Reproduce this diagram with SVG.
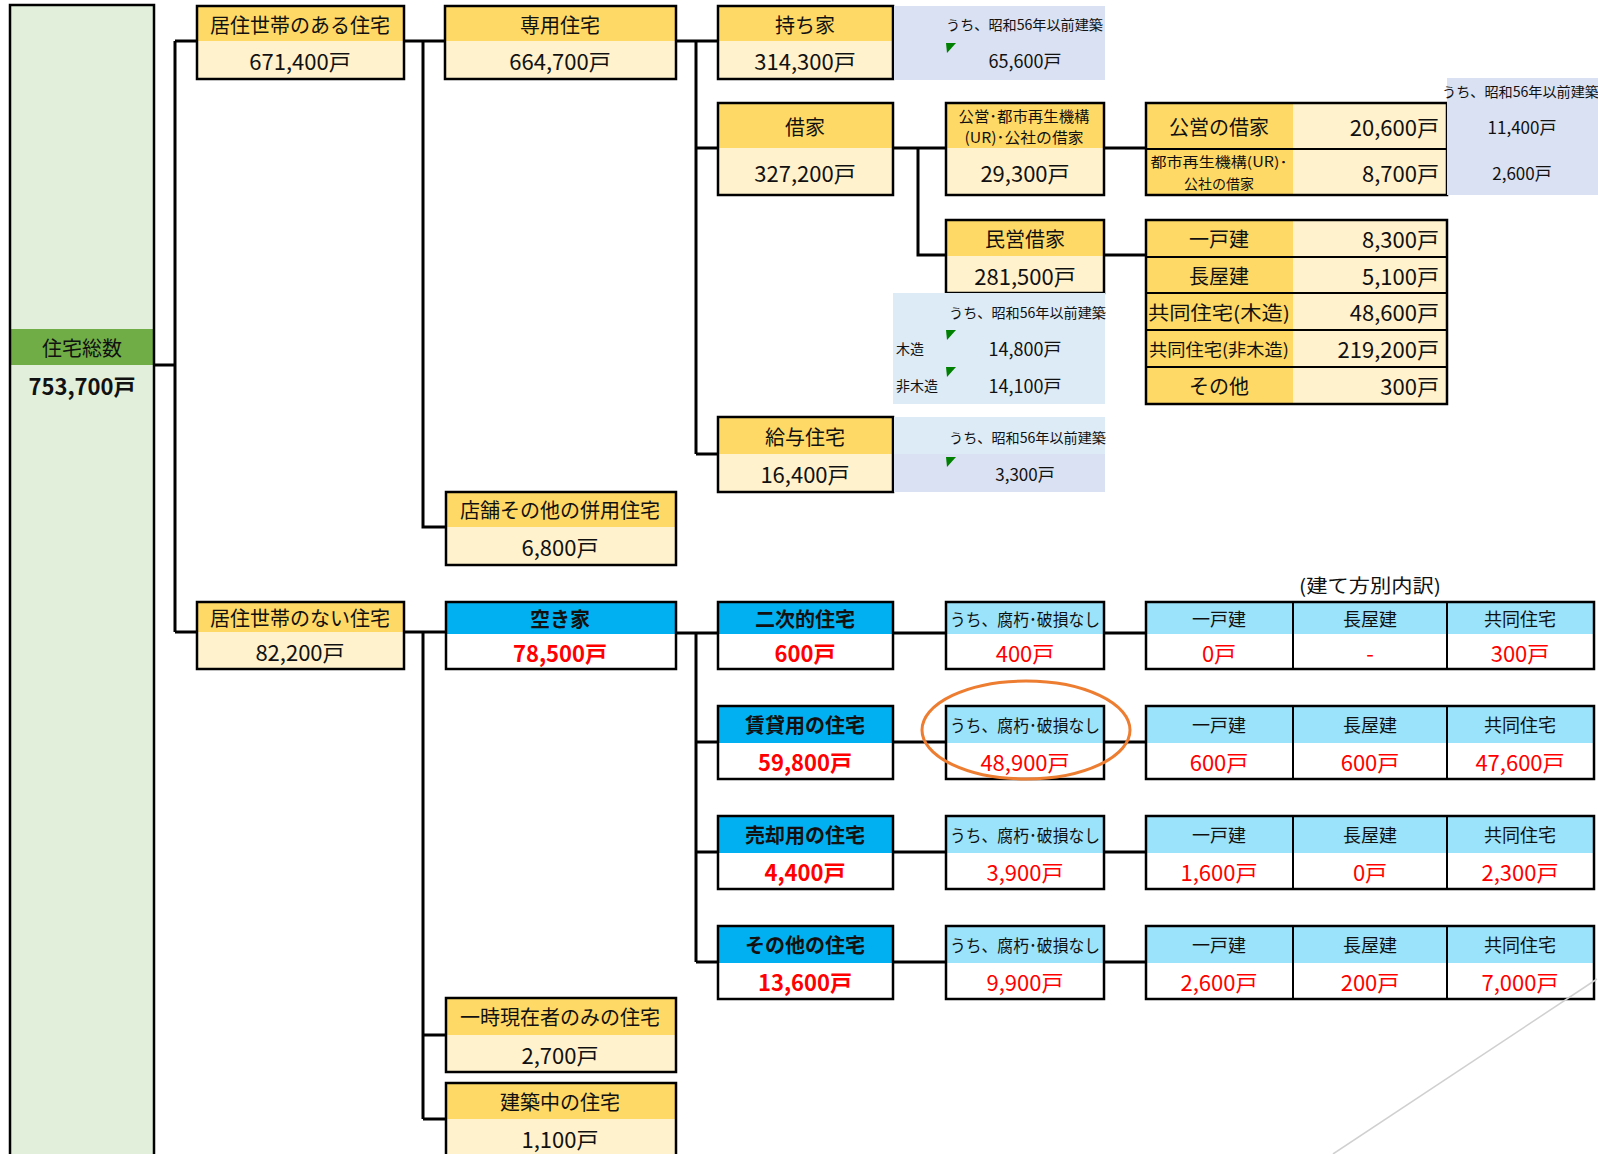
<svg xmlns="http://www.w3.org/2000/svg" width="1598" height="1154" viewBox="0 0 1598 1154">
<defs>
<style>
.t{font-family:'Noto Sans CJK JP','Noto Sans',sans-serif;text-anchor:middle;dominant-baseline:central;fill:#111}
.h{font-size:20px}.v{font-size:22px}.s{font-size:14px}.m{font-size:18px}
.r{fill:#f00}.bd{font-weight:bold}.e{text-anchor:end}.st{text-anchor:start}
.bx{fill:none;stroke:#000;stroke-width:2.5}
.ln{fill:none;stroke:#000;stroke-width:2}
.hy{fill:#FFD966}.ly{fill:#FFF2CC}.lg{fill:#E2EFDA}.dg{fill:#70AD47}
.lav{fill:#D9E1F2}.lb{fill:#DDEBF7}.bl{fill:#00B0F0}.cy{fill:#9BE3FB}.wh{fill:#fff}
.tri{fill:#008000}
.con{fill:none;stroke:#000;stroke-width:3}
</style>
</defs>
<rect width="1598" height="1154" fill="#fff"/>

<g id="connectors" class="con">
<path d="M154,365 H175 M175,41 V632 M175,41 H197 M175,632 H197"/>
<path d="M404,41 H445 M423,41 V527 H446"/>
<path d="M404,632 H446 M423,632 V1119 M423,1035 H446 M423,1119 H446"/>
<path d="M676,41 H718 M696,41 V454 M696,148 H718 M696,454 H718"/>
<path d="M893,148 H946 M918,148 V255 H946"/>
<path d="M1104,148 H1146 M1104,255 H1146"/>
<path d="M676,633 H718 M696,633 V962 M696,742 H718 M696,852 H718 M696,962 H718"/>
<path d="M893,633 H946 M893,742 H946 M893,852 H946 M893,962 H946"/>
<path d="M1104,633 H1146 M1104,742 H1146 M1104,852 H1146 M1104,962 H1146"/>
</g>

<g id="total">
<rect x="10" y="5" width="144" height="1160" class="lg"/>
<rect x="10" y="329" width="144" height="36" class="dg"/>
<rect x="10" y="5" width="144" height="1160" class="bx"/>
<text x="82" y="347" class="t h">住宅総数</text>
<text x="82" y="385" class="t bd" style="font-size:22px">753,700戸</text>
</g>

<g id="kyoju-ari">
<rect x="197" y="6" width="207" height="35" class="hy"/>
<rect x="197" y="41" width="207" height="38" class="ly"/>
<rect x="197" y="6" width="207" height="73" class="bx"/>
<text x="300" y="24" class="t h">居住世帯のある住宅</text>
<text x="300" y="60" class="t v">671,400戸</text>
</g>

<g id="senyo">
<rect x="445" y="6" width="231" height="35" class="hy"/>
<rect x="445" y="41" width="231" height="38" class="ly"/>
<rect x="445" y="6" width="231" height="73" class="bx"/>
<text x="560" y="24" class="t h">専用住宅</text>
<text x="560" y="60" class="t v">664,700戸</text>
</g>

<g id="mochiie">
<rect x="718" y="6" width="175" height="35" class="hy"/>
<rect x="718" y="41" width="175" height="38" class="ly"/>
<rect x="718" y="6" width="175" height="73" class="bx"/>
<text x="805" y="24" class="t h">持ち家</text>
<text x="805" y="60" class="t v">314,300戸</text>
</g>

<g id="mochiie-old">
<rect x="894" y="6" width="211" height="74" class="lav"/>
<text x="946" y="24" class="t s st" textLength="157" lengthAdjust="spacingAndGlyphs">うち、昭和56年以前建築</text>
<polygon points="946,43 956,43 947,53" class="tri"/>
<text x="1025" y="60" class="t m">65,600戸</text>
</g>

<g id="shakuya">
<rect x="718" y="103" width="175" height="45" class="hy"/>
<rect x="718" y="148" width="175" height="47" class="ly"/>
<rect x="718" y="103" width="175" height="92" class="bx"/>
<text x="805" y="126" class="t h">借家</text>
<text x="805" y="172" class="t v">327,200戸</text>
</g>

<g id="koei-ur">
<rect x="946" y="103" width="158" height="45" class="hy"/>
<rect x="946" y="148" width="158" height="47" class="ly"/>
<rect x="946" y="103" width="158" height="92" class="bx"/>
<text x="1024" y="115" class="t" style="font-size:15px" textLength="131" lengthAdjust="spacingAndGlyphs">公営･都市再生機構</text>
<text x="1024" y="136" class="t" style="font-size:15px" textLength="119" lengthAdjust="spacingAndGlyphs">(UR)･公社の借家</text>
<text x="1025" y="172" class="t v">29,300戸</text>
</g>

<g id="koei-table">
<rect x="1146" y="103" width="147" height="92" class="hy"/>
<rect x="1293" y="103" width="154" height="92" class="ly"/>
<path d="M1146,149 H1447" class="ln"/>
<rect x="1146" y="103" width="301" height="92" class="bx"/>
<text x="1219" y="126" class="t h">公営の借家</text>
<text x="1439" y="126" class="t v e">20,600戸</text>
<text x="1219" y="161" class="t" style="font-size:14px" textLength="137" lengthAdjust="spacingAndGlyphs">都市再生機構(UR)･</text>
<text x="1219" y="183" class="t" style="font-size:14px">公社の借家</text>
<text x="1439" y="172" class="t v e">8,700戸</text>
</g>

<g id="koei-old">
<rect x="1447" y="78" width="151" height="117" class="lav"/>
<text x="1442" y="91" class="t s st" textLength="157" lengthAdjust="spacingAndGlyphs">うち、昭和56年以前建築</text>
<text x="1522" y="126" class="t" style="font-size:17px">11,400戸</text>
<text x="1522" y="172" class="t" style="font-size:17px">2,600戸</text>
</g>

<g id="minei">
<rect x="946" y="220" width="158" height="36" class="hy"/>
<rect x="946" y="256" width="158" height="37" class="ly"/>
<rect x="946" y="220" width="158" height="73" class="bx"/>
<text x="1025" y="238" class="t h">民営借家</text>
<text x="1025" y="275" class="t v">281,500戸</text>
</g>

<g id="minei-old">
<rect x="893" y="293" width="212" height="111" class="lb"/>
<text x="949" y="312" class="t s st" textLength="157" lengthAdjust="spacingAndGlyphs">うち、昭和56年以前建築</text>
<polygon points="946,330 956,330 947,340" class="tri"/>
<text x="896" y="348" class="t s st">木造</text>
<text x="1025" y="348" class="t m">14,800戸</text>
<polygon points="946,367 956,367 947,377" class="tri"/>
<text x="896" y="385" class="t s st">非木造</text>
<text x="1025" y="385" class="t m">14,100戸</text>
</g>

<g id="minei-table">
<rect x="1146" y="220" width="147" height="184" class="hy"/>
<rect x="1293" y="220" width="154" height="184" class="ly"/>
<path d="M1146,257 H1447 M1146,293 H1447 M1146,330 H1447 M1146,367 H1447" class="ln"/>
<rect x="1146" y="220" width="301" height="184" class="bx"/>
<text x="1219" y="238" class="t h">一戸建</text>
<text x="1439" y="238" class="t v e">8,300戸</text>
<text x="1219" y="275" class="t h">長屋建</text>
<text x="1439" y="275" class="t v e">5,100戸</text>
<text x="1219" y="311" class="t" style="font-size:19px" textLength="142" lengthAdjust="spacingAndGlyphs">共同住宅(木造)</text>
<text x="1439" y="311" class="t v e">48,600戸</text>
<text x="1219" y="348" class="t" style="font-size:17px" textLength="140" lengthAdjust="spacingAndGlyphs">共同住宅(非木造)</text>
<text x="1439" y="348" class="t v e">219,200戸</text>
<text x="1219" y="385" class="t h">その他</text>
<text x="1439" y="385" class="t v e">300戸</text>
</g>

<g id="kyuyo">
<rect x="718" y="417" width="175" height="37" class="hy"/>
<rect x="718" y="454" width="175" height="38" class="ly"/>
<rect x="718" y="417" width="175" height="75" class="bx"/>
<text x="805" y="436" class="t h">給与住宅</text>
<text x="805" y="473" class="t v">16,400戸</text>
</g>

<g id="kyuyo-old">
<rect x="894" y="417" width="211" height="37" class="lb"/>
<rect x="894" y="454" width="211" height="38" class="lav"/>
<text x="949" y="437" class="t s st" textLength="157" lengthAdjust="spacingAndGlyphs">うち、昭和56年以前建築</text>
<polygon points="946,457 956,457 947,467" class="tri"/>
<text x="1025" y="473" class="t" style="font-size:17px">3,300戸</text>
</g>

<g id="heiyo">
<rect x="446" y="492" width="230" height="35" class="hy"/>
<rect x="446" y="527" width="230" height="38" class="ly"/>
<rect x="446" y="492" width="230" height="73" class="bx"/>
<text x="560" y="509" class="t h">店舗その他の併用住宅</text>
<text x="560" y="546" class="t v">6,800戸</text>
</g>

<g id="kyoju-nashi">
<rect x="197" y="602" width="207" height="30" class="hy"/>
<rect x="197" y="632" width="207" height="37" class="ly"/>
<rect x="197" y="602" width="207" height="67" class="bx"/>
<text x="300" y="617" class="t h">居住世帯のない住宅</text>
<text x="300" y="651" class="t v">82,200戸</text>
</g>

<g id="akiya">
<rect x="446" y="602" width="230" height="32" class="bl"/>
<rect x="446" y="634" width="230" height="35" class="wh"/>
<rect x="446" y="602" width="230" height="67" class="bx"/>
<text x="560" y="618" class="t h bd">空き家</text>
<text x="560" y="652" class="t bd r" style="font-size:22px">78,500戸</text>
</g>

<g id="ichiji">
<rect x="446" y="998" width="230" height="37" class="hy"/>
<rect x="446" y="1035" width="230" height="37" class="ly"/>
<rect x="446" y="998" width="230" height="74" class="bx"/>
<text x="560" y="1016" class="t h">一時現在者のみの住宅</text>
<text x="560" y="1054" class="t v">2,700戸</text>
</g>

<g id="kenchiku">
<rect x="446" y="1083" width="230" height="36" class="hy"/>
<rect x="446" y="1119" width="230" height="42" class="ly"/>
<rect x="446" y="1083" width="230" height="78" class="bx"/>
<text x="560" y="1101" class="t h">建築中の住宅</text>
<text x="560" y="1138" class="t v">1,100戸</text>
</g>

<g id="nijiteki">
<rect x="718" y="602" width="175" height="32" class="bl"/>
<rect x="718" y="634" width="175" height="35" class="wh"/>
<rect x="718" y="602" width="175" height="67" class="bx"/>
<text x="805" y="618" class="t h bd">二次的住宅</text>
<text x="805" y="652" class="t bd r" style="font-size:22px">600戸</text>
</g>

<g id="chintai">
<rect x="718" y="706" width="175" height="37" class="bl"/>
<rect x="718" y="743" width="175" height="36" class="wh"/>
<rect x="718" y="706" width="175" height="73" class="bx"/>
<text x="805" y="724" class="t h bd">賃貸用の住宅</text>
<text x="805" y="761" class="t bd r" style="font-size:22px">59,800戸</text>
</g>

<g id="baikyaku">
<rect x="718" y="816" width="175" height="37" class="bl"/>
<rect x="718" y="853" width="175" height="36" class="wh"/>
<rect x="718" y="816" width="175" height="73" class="bx"/>
<text x="805" y="834" class="t h bd">売却用の住宅</text>
<text x="805" y="871" class="t bd r" style="font-size:22px">4,400戸</text>
</g>

<g id="sonota">
<rect x="718" y="926" width="175" height="37" class="bl"/>
<rect x="718" y="963" width="175" height="36" class="wh"/>
<rect x="718" y="926" width="175" height="73" class="bx"/>
<text x="805" y="944" class="t h bd">その他の住宅</text>
<text x="805" y="981" class="t bd r" style="font-size:22px">13,600戸</text>
</g>

<g id="fukyu-1">
<rect x="946" y="602" width="158" height="32" class="cy"/>
<rect x="946" y="634" width="158" height="35" class="wh"/>
<rect x="946" y="602" width="158" height="67" class="bx"/>
<text x="1025" y="618" class="t" style="font-size:17px" textLength="150" lengthAdjust="spacingAndGlyphs">うち、腐朽･破損なし</text>
<text x="1025" y="652" class="t r v">400戸</text>
</g>
<g id="fukyu-2">
<rect x="946" y="706" width="158" height="37" class="cy"/>
<rect x="946" y="743" width="158" height="36" class="wh"/>
<rect x="946" y="706" width="158" height="73" class="bx"/>
<text x="1025" y="724" class="t" style="font-size:17px" textLength="150" lengthAdjust="spacingAndGlyphs">うち、腐朽･破損なし</text>
<text x="1025" y="761" class="t r v">48,900戸</text>
</g>
<g id="fukyu-3">
<rect x="946" y="816" width="158" height="37" class="cy"/>
<rect x="946" y="853" width="158" height="36" class="wh"/>
<rect x="946" y="816" width="158" height="73" class="bx"/>
<text x="1025" y="834" class="t" style="font-size:17px" textLength="150" lengthAdjust="spacingAndGlyphs">うち、腐朽･破損なし</text>
<text x="1025" y="871" class="t r v">3,900戸</text>
</g>
<g id="fukyu-4">
<rect x="946" y="926" width="158" height="37" class="cy"/>
<rect x="946" y="963" width="158" height="36" class="wh"/>
<rect x="946" y="926" width="158" height="73" class="bx"/>
<text x="1025" y="944" class="t" style="font-size:17px" textLength="150" lengthAdjust="spacingAndGlyphs">うち、腐朽･破損なし</text>
<text x="1025" y="981" class="t r v">9,900戸</text>
</g>

<text x="1370" y="584" class="t" style="font-size:19px" textLength="142" lengthAdjust="spacingAndGlyphs">(建て方別内訳)</text>

<g id="tatekata-1">
<rect x="1146" y="602" width="448" height="32" class="cy"/>
<rect x="1146" y="634" width="448" height="35" class="wh"/>
<path d="M1293,602 V669 M1447,602 V669" class="ln"/>
<rect x="1146" y="602" width="448" height="67" class="bx"/>
<text x="1219" y="618" class="t m">一戸建</text><text x="1370" y="618" class="t m">長屋建</text><text x="1520" y="618" class="t m">共同住宅</text>
<text x="1219" y="652" class="t r v">0戸</text><text x="1370" y="652" class="t r v">-</text><text x="1520" y="652" class="t r v">300戸</text>
</g>
<g id="tatekata-2">
<rect x="1146" y="706" width="448" height="37" class="cy"/>
<rect x="1146" y="743" width="448" height="36" class="wh"/>
<path d="M1293,706 V779 M1447,706 V779" class="ln"/>
<rect x="1146" y="706" width="448" height="73" class="bx"/>
<text x="1219" y="724" class="t m">一戸建</text><text x="1370" y="724" class="t m">長屋建</text><text x="1520" y="724" class="t m">共同住宅</text>
<text x="1219" y="761" class="t r v">600戸</text><text x="1370" y="761" class="t r v">600戸</text><text x="1520" y="761" class="t r v">47,600戸</text>
</g>
<g id="tatekata-3">
<rect x="1146" y="816" width="448" height="37" class="cy"/>
<rect x="1146" y="853" width="448" height="36" class="wh"/>
<path d="M1293,816 V889 M1447,816 V889" class="ln"/>
<rect x="1146" y="816" width="448" height="73" class="bx"/>
<text x="1219" y="834" class="t m">一戸建</text><text x="1370" y="834" class="t m">長屋建</text><text x="1520" y="834" class="t m">共同住宅</text>
<text x="1219" y="871" class="t r v">1,600戸</text><text x="1370" y="871" class="t r v">0戸</text><text x="1520" y="871" class="t r v">2,300戸</text>
</g>
<g id="tatekata-4">
<rect x="1146" y="926" width="448" height="37" class="cy"/>
<rect x="1146" y="963" width="448" height="36" class="wh"/>
<path d="M1293,926 V999 M1447,926 V999" class="ln"/>
<rect x="1146" y="926" width="448" height="73" class="bx"/>
<text x="1219" y="944" class="t m">一戸建</text><text x="1370" y="944" class="t m">長屋建</text><text x="1520" y="944" class="t m">共同住宅</text>
<text x="1219" y="981" class="t r v">2,600戸</text><text x="1370" y="981" class="t r v">200戸</text><text x="1520" y="981" class="t r v">7,000戸</text>
</g>

<ellipse cx="1026" cy="730" rx="104" ry="49" fill="none" stroke="#ED7D31" stroke-width="3"/>
<path d="M1597,979 L1333,1154" fill="none" stroke="#D0D0D0" stroke-width="1.5"/>
</svg>
